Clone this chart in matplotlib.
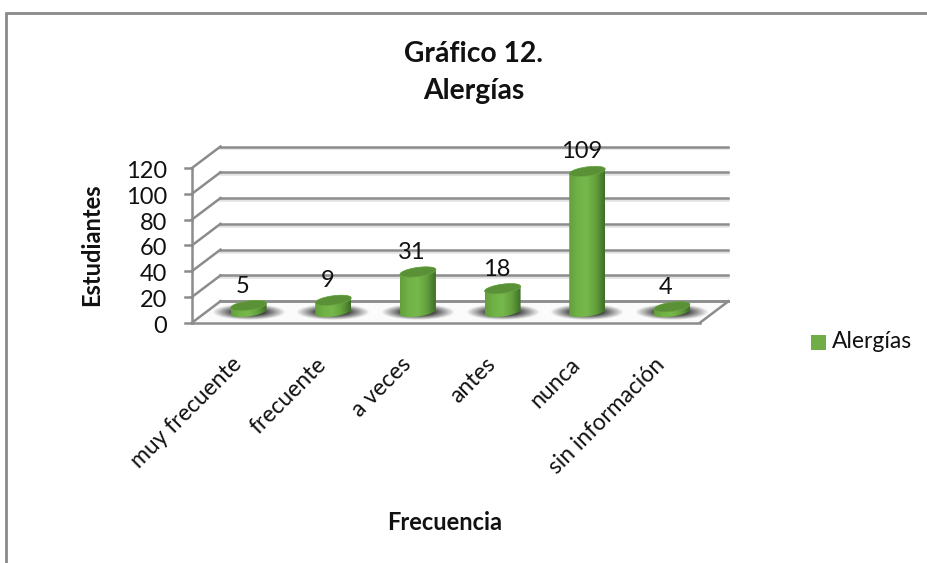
import numpy as np
import matplotlib
matplotlib.use("Agg")
import matplotlib.pyplot as plt
from matplotlib.patches import Polygon, Rectangle
from matplotlib.colors import LinearSegmentedColormap

categories = ["muy frecuente", "frecuente", "a veces", "antes", "nunca", "sin información"]
series_name = "Alergías"
values = [5, 9, 31, 18, 109, 4]
y_ticks = [0, 20, 40, 60, 80, 100, 120]
title = "Gráfico 12.\nAlergías"
x_title = "Frecuencia"
y_title = "Estudiantes"

W, H = 928, 563
plt.rcParams["font.family"] = ["Lato", "DejaVu Sans"]
fig = plt.figure(figsize=(W / 100, H / 100), dpi=100)

# frame
fig.add_artist(Rectangle((6.5 / W, -0.1), 1.2, 1 - 13 / H + 0.1, transform=fig.transFigure,
                         fc="white", ec="#8a8a8a", lw=2, zorder=-1))

X0, X1, Y0, Y120 = 192.0, 700.0, 322.7, 168.0
ax = fig.add_axes([X0 / W, 1 - Y0 / H, (X1 - X0) / W, (Y0 - Y120) / H])
ax.set_xlim(0, len(categories))
ax.set_ylim(0, 120)
ax.axis("off")

px = (X1 - X0) / len(categories)
py = (Y0 - Y120) / 120
DX, DY = 28.5 / px, 21.5 / py   # depth offset in data units
GRID = "#8c8c8c"


def line(xs, ys, z=2, lw=1.8, c=GRID):
    ax.plot(xs, ys, color=c, lw=lw, clip_on=False, zorder=z, solid_capstyle="projecting")


# grid
for t in y_ticks:
    if t > 0:
        line([DX, 6 + DX], [t + DY - 1.5, t + DY - 1.5], z=1, c="#e2e2e2")
    line([0, DX], [t, t + DY])
    line([DX, 6 + DX], [t + DY, t + DY])
    line([-7 / px, 0], [t, t])
    ax.text(-25 / px, t - 1.5 / py, str(t), ha="right", va="center_baseline", fontsize=17, color="#111111", clip_on=False)
line([0, 0], [0, 120])
# floor
ax.add_patch(Polygon([[0, 0], [6, 0], [6 + DX, DY], [DX, DY]], closed=True, fc="#fbfbfb", ec="none", zorder=1.5, clip_on=False))
line([DX, 6 + DX], [DY, DY], z=1.6)
line([0, 6], [0, 0], z=2)
line([6, 6 + DX], [0, DY], z=2)

cmap = LinearSegmentedColormap.from_list("cyl", ["#639f3d", "#72b348", "#76b84b", "#64a03d", "#3f6d27"])
grad = np.linspace(0, 1, 128)[None, :]
A = 18.0 / px        # half width, data x units
B = 4.6 / py         # half height of the cap, data y units
TILT = 0.13


def ell(cx, cy, n=90, t0=0, t1=2 * np.pi):
    t = np.linspace(t0, t1, n)
    ex = A * np.cos(t)
    ey = B * np.sin(t) + TILT * (A * np.cos(t)) * px / py
    return np.column_stack([cx + ex, cy + ey])


# shadows
yy, xx = np.mgrid[-1:1:80j, -1:1:160j]
alpha = np.clip((1 - np.sqrt(xx**2 + yy**2)) * 1.7, 0, 1)
rgba = np.zeros(alpha.shape + (4,))
rgba[..., :3] = 0.2
rgba[..., 3] = alpha * 0.95

xs = np.arange(len(values)) + 0.5 + DX / 2
ybase = DY / 2
for i, (x, v) in enumerate(zip(xs, values)):
    ax.imshow(rgba, extent=[x - 37 / px, x + 37 / px, ybase - 8.5 / py, ybase + 7 / py], aspect="auto",
              zorder=2.5, clip_on=False, interpolation="bilinear")
    top = ybase + v
    low = ell(x, ybase, t0=np.pi, t1=2 * np.pi)
    up = ell(x, top, t0=0, t1=np.pi)
    body = Polygon(np.vstack([low, up]), closed=True, fc="none", ec="none", transform=ax.transData)
    ax.add_patch(body)
    im = ax.imshow(grad, cmap=cmap, extent=[x - A, x + A, ybase - B - 3, top + B + 3], aspect="auto", zorder=3)
    im.set_clip_path(body)
    ax.add_patch(Polygon(ell(x, top), closed=True, fc="#5a9136", ec="#6aa544", lw=0.5, zorder=3.2, clip_on=False))
    ax.text(x - 6 / px, top + 9 / py, str(v), ha="center", va="bottom", fontsize=17, color="#111111", zorder=5, clip_on=False)
    ax.text(x - 18 / px, -31 / py, categories[i], rotation=45, rotation_mode="anchor", ha="right", va="top",
            fontsize=16.5, color="#111111", clip_on=False)

ax.set_xlim(0, len(categories))
ax.set_ylim(0, 120)

fig.text(474 / W, 1 - 72.5 / H, title, ha="center", va="center", fontsize=20.3, fontweight="bold", color="#111111", linespacing=1.5)
fig.text(445 / W, 1 - 522 / H, x_title, ha="center", va="center", fontsize=17, fontweight="bold", color="#111111")
fig.text(92 / W, 1 - 245 / H, y_title, ha="center", va="center", rotation=90, fontsize=17, fontweight="bold", color="#111111")

fig.add_artist(Rectangle((811 / W, 1 - 350 / H), 15 / W, 15 / H, transform=fig.transFigure, fc="#70ad47", ec="none"))
fig.text(832 / W, 1 - 341 / H, series_name, ha="left", va="center", fontsize=16.5, color="#111111")

fig.savefig("out.png", dpi=100)
